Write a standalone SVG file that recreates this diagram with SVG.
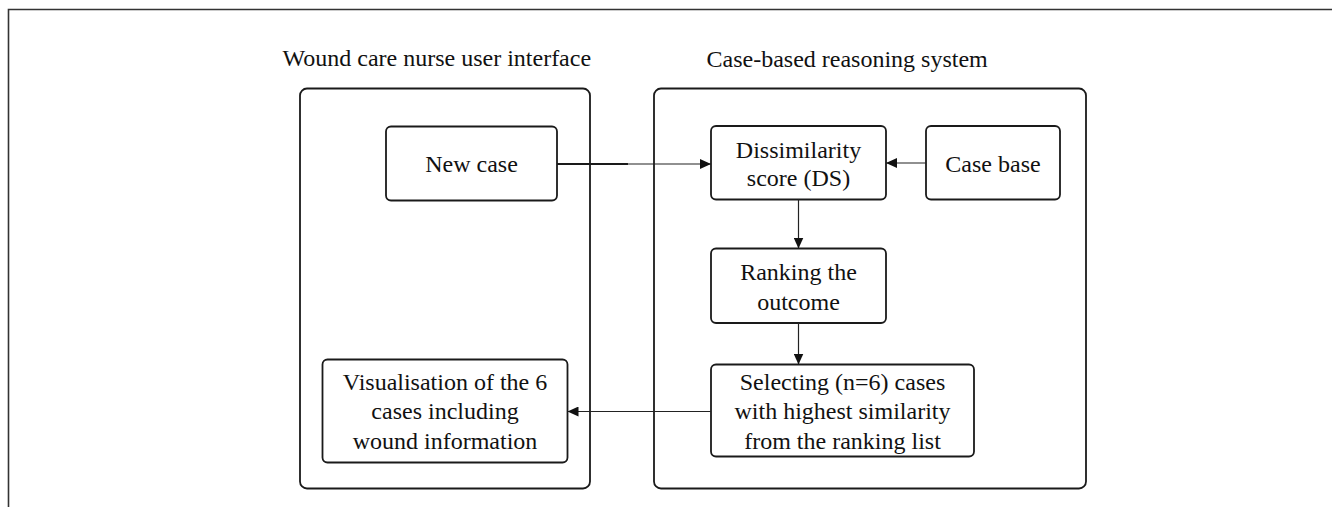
<svg xmlns="http://www.w3.org/2000/svg" width="1332" height="507" viewBox="0 0 1332 507">
<style>
text{font-family:'Liberation Serif','Times New Roman',Times,'DejaVu Serif',serif;font-size:24px;fill:#111;}
.c{text-anchor:middle;}
.box{fill:#fff;stroke:#1a1a1a;stroke-width:1.8;}
.cont{fill:none;stroke:#1a1a1a;stroke-width:1.8;}
.edge{fill:none;stroke:#222;stroke-width:1.2;}
.frame{fill:none;stroke:#333;stroke-width:1.6;}
</style>
<defs>
<marker id="ah" markerUnits="userSpaceOnUse" markerWidth="12" markerHeight="10" refX="11" refY="5" orient="auto">
<path d="M0,0 L11,5 L0,10 z" fill="#111"/>
</marker>
</defs>
<rect width="1332" height="507" fill="#fff"/>
<path class="frame" d="M8.5,507 V9.5 H1332"/>

<g id="ui-container">
<rect class="cont" x="300" y="88.5" width="290" height="400" rx="7"/>
<text x="282.5" y="66" font-family="Liberation Serif, serif">Wound care nurse user interface</text>
</g>
<g id="cbr-container">
<rect class="cont" x="654" y="88.5" width="432" height="400" rx="7"/>
<text x="706.5" y="66.5" font-family="Liberation Serif, serif">Case-based reasoning system</text>
</g>

<g id="new-case">
<rect class="box" x="386" y="126.5" width="171" height="74" rx="5"/>
<text class="c" x="471.5" y="171.5">New case</text>
</g>
<g id="dissimilarity">
<rect class="box" x="711" y="126" width="175" height="73.5" rx="5"/>
<text class="c" x="798.5" y="157.5">Dissimilarity</text>
<text class="c" x="798.5" y="186">score (DS)</text>
</g>
<g id="case-base">
<rect class="box" x="926" y="126" width="134" height="73.5" rx="5"/>
<text class="c" x="993" y="171.5">Case base</text>
</g>
<g id="ranking">
<rect class="box" x="711" y="248.5" width="175" height="74.5" rx="5"/>
<text class="c" x="798.5" y="280">Ranking the</text>
<text class="c" x="798.5" y="310">outcome</text>
</g>
<g id="selecting">
<rect class="box" x="711" y="364.5" width="263" height="92" rx="5"/>
<text class="c" x="842.5" y="389.5">Selecting (n=6) cases</text>
<text class="c" x="842.5" y="419">with highest similarity</text>
<text class="c" x="842.5" y="448.5">from the ranking list</text>
</g>
<g id="visualisation">
<rect class="box" x="322.5" y="359.5" width="245" height="103" rx="5"/>
<text class="c" x="445" y="389.5">Visualisation of the 6</text>
<text class="c" x="445" y="419">cases including</text>
<text class="c" x="445" y="448.5">wound information</text>
</g>

<g id="connectors">
<path d="M557,164 H628" fill="none" stroke="#1a1a1a" stroke-width="2"/>
<path class="edge" d="M627,164 H711" marker-end="url(#ah)"/>
<path class="edge" d="M926,163 H886" marker-end="url(#ah)"/>
<path class="edge" d="M798.5,199.5 V248.5" marker-end="url(#ah)"/>
<path class="edge" d="M798.5,323 V364.5" marker-end="url(#ah)"/>
<path class="edge" d="M711,411.5 H567.5" marker-end="url(#ah)"/>
</g>
</svg>
